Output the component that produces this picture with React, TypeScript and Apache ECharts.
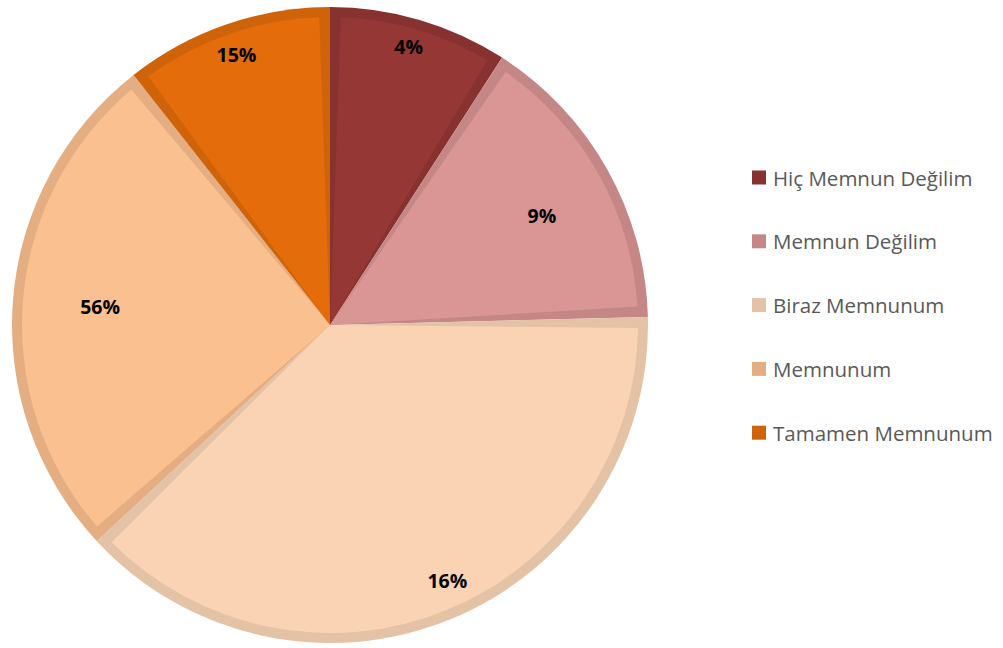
import React, { useEffect, useRef } from "react";
import * as echarts from "echarts";

const categories = [
  "Hiç Memnun Değilim",
  "Memnun Değilim",
  "Biraz Memnunum",
  "Memnunum",
  "Tamamen Memnunum",
];
// slice sizes as drawn (share of the circle, %)
const sliceValues = [9.1, 15.5, 38.5, 26.3, 10.6];
// the percentage texts written on the slices
const percentLabels = ["4%", "9%", "16%", "56%", "15%"];

const fillColors = ["#953735", "#D99694", "#FAD3B4", "#FAC090", "#E46C0A"];
const borderColors = ["#873130", "#C58786", "#E4C2A6", "#E4AE82", "#CF630A"];
// distance of each label from the centre, as a share of the radius
const labelRadiusShare = [0.91, 0.75, 0.885, 0.725, 0.9];
// small angular nudge of each label (degrees, clockwise)
const labelAngleNudge = [-0.6, 2, -2.5, 0, 0];

const CX = 330;
const CY = 325;
const R = 318;
const BAND = 10;

export default function App() {
  const ref = useRef<HTMLDivElement>(null);
  useEffect(() => {
    document.body.style.margin = "0";
    const chart = echarts.init(ref.current!, null, { renderer: "svg" });
    const base = categories.map((name, i) => ({
      name,
      value: sliceValues[i],
      itemStyle: { color: borderColors[i] },
    }));
    const top = categories.map((name, i) => ({
      name,
      value: sliceValues[i],
      itemStyle: { color: fillColors[i] },
    }));
    chart.setOption({
      animation: false,
      backgroundColor: "#ffffff",
      legend: {
        orient: "vertical",
        left: 752,
        top: 167,
        padding: 0,
        icon: "rect",
        itemWidth: 14,
        itemHeight: 14,
        itemGap: 42.8,
        selectedMode: false,
        textStyle: {
          fontFamily: "Open Sans",
          fontSize: 20.5,
          color: "#595959",
          lineHeight: 20,
          padding: [0, 0, 0, 2],
        },
        data: categories.map((n, i) => ({
          name: n,
          itemStyle: { color: borderColors[i] },
        })),
      },
      series: [
        {
          type: "pie",
          center: [CX, CY],
          radius: [0, R],
          startAngle: 90,
          clockwise: true,
          silent: true,
          label: { show: false },
          labelLine: { show: false },
          emphasis: { disabled: true },
          data: base,
        },
        {
          type: "pie",
          center: [CX, CY],
          radius: [0, R - BAND],
          startAngle: 90,
          clockwise: true,
          padAngle: 4,
          silent: true,
          emphasis: { disabled: true },
          labelLine: { show: false },
          label: {
            show: true,
            position: "inside",
            formatter: (p: any) => percentLabels[p.dataIndex],
            fontFamily: "Open Sans",
            fontWeight: "bold",
            fontSize: 19.5,
            color: "#000000",
          },
          labelLayout: (p: any) => {
            const lr = p.labelRect;
            const lx = lr.x + lr.width / 2;
            const ly = lr.y + lr.height / 2;
            const a =
              Math.atan2(ly - CY, lx - CX) +
              (labelAngleNudge[p.dataIndex] * Math.PI) / 180;
            const t = labelRadiusShare[p.dataIndex] * R;
            return {
              x: CX + Math.cos(a) * t,
              y: CY + Math.sin(a) * t,
              align: "center",
              verticalAlign: "middle",
            };
          },
          data: top,
        },
      ],
    });
    return () => chart.dispose();
  }, []);
  return <div ref={ref} style={{ width: 1003, height: 648 }} />;
}
